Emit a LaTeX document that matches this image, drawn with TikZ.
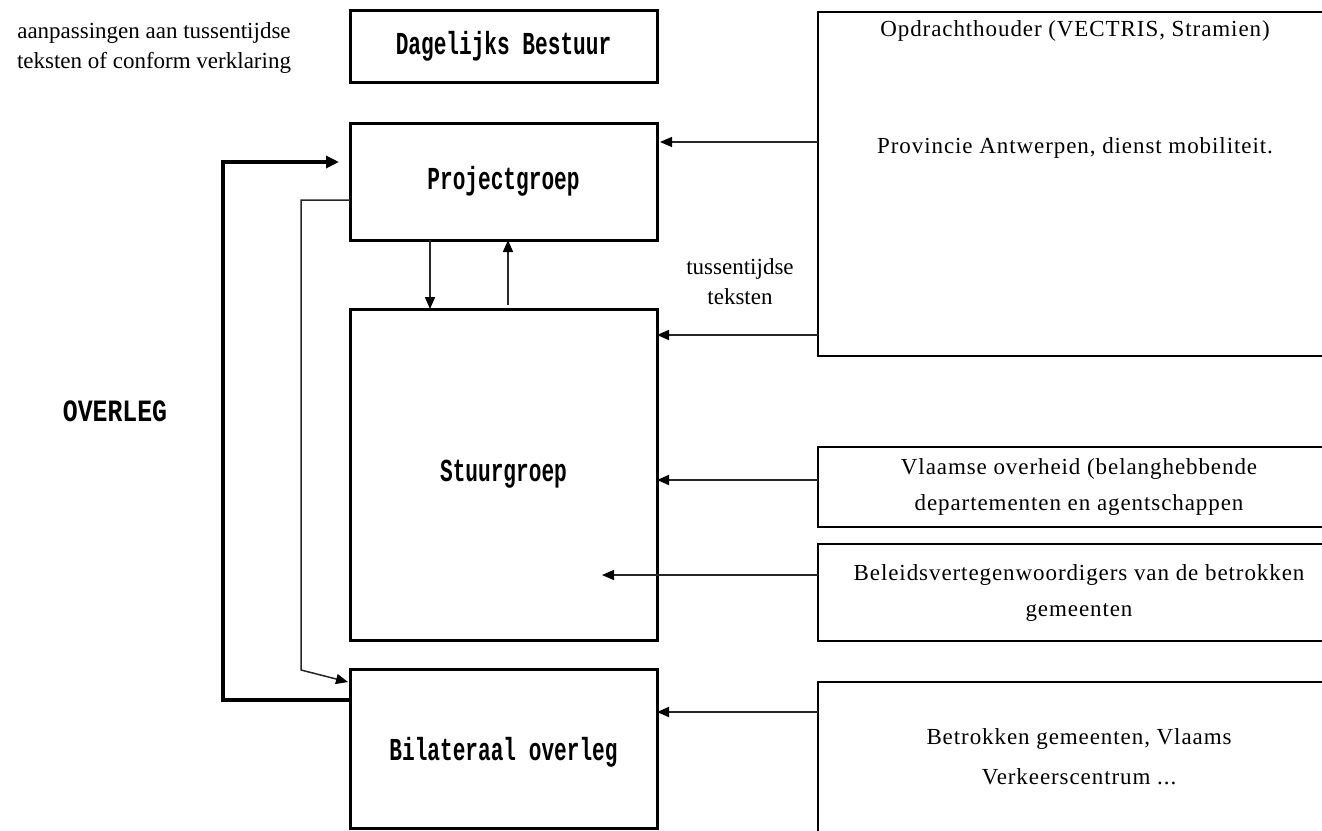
\documentclass[tikz,border=0pt]{standalone}
\usepackage{fontspec}
\setmainfont{Liberation Serif}
\newfontfamily\sidefont[LetterSpace=4]{Liberation Serif}
\newfontfamily\slabfont[FakeStretch=0.66]{Liberation Mono}
\newfontfamily\slabwidefont[FakeStretch=0.8]{Liberation Mono}
\usepackage{tikz}
\usetikzlibrary{arrows.meta, positioning}

\begin{document}
\begin{tikzpicture}[x=1pt, y=-1pt, every node/.style={font=\fontsize{23}{30}\selectfont}]
    % Styles
    \tikzstyle{mainbox} = [rectangle, draw, line width=3pt, minimum width=307pt, inner sep=0pt, outer sep=0pt, font=\slabfont\bfseries\fontsize{32}{30}\selectfont]
    \tikzstyle{sidebox} = [rectangle, draw, line width=1.2pt, minimum width=522pt, inner sep=0pt, outer sep=0pt, align=center, font=\sidefont\fontsize{23}{30}\selectfont]
    \tikzstyle{sidetext} = [inner sep=0pt, align=center]
    \tikzstyle{thinarrow} = [-{Triangle[length=12pt,width=10pt,color=black]}, line width=1.5pt, draw=black!85]
    \tikzstyle{thickarrow} = [-{Triangle[length=13pt,width=12pt]}, line width=3.2pt]

    \path[use as bounding box, fill=white] (0,0) rectangle (1322,830);

    % Main column
    \node[mainbox, minimum height=72pt] (db) at (503.5,46) {Dagelijks Bestuur};
    \node[mainbox, minimum height=117pt, below=41pt of db] (pg) {Projectgroep};
    \node[mainbox, minimum height=331pt, below=69pt of pg] (sg) {Stuurgroep};
    \node[mainbox, minimum height=159pt, below=29pt of sg, text depth=-8pt] (bil) {Bilateraal overleg};

    % Side boxes
    \node[sidebox, minimum height=344pt] (opdracht) at (1079,184) {};
    \node[sidetext, font=\sidefont\fontsize{23}{30}\selectfont] (opdrachttext) at (1075,31) {Opdrachthouder (VECTRIS, Stramien)};
    \node[sidetext, font=\sidefont\fontsize{23}{30}\selectfont] (provtext) at (1075,148) {Provincie Antwerpen, dienst mobiliteit.};
    \node[sidebox, minimum height=80pt] (vlaams) at (1079,487) {Vlaamse overheid (belanghebbende\\[6pt]departementen en agentschappen};
    \node[sidebox, minimum height=97pt] (beleids) at (1079,592.5) {Beleidsvertegenwoordigers van de betrokken\\[6pt]gemeenten};
    \node[sidebox, minimum height=150pt] (betrokken) at (1079,757) {Betrokken gemeenten, Vlaams\\[10pt]Verkeerscentrum ...};

    % Labels
    \node[sidetext] (aanpassing) at (154,48) {aanpassingen aan tussentijdse\\teksten of conform verklaring};
    \node[sidetext] (tussen) at (740,282) {tussentijdse\\teksten};
    \node[inner sep=0pt, font=\slabwidefont\bfseries\fontsize{31}{30}\selectfont] (overleg) at (115,411) {OVERLEG};
    \coordinate (beleidstip) at (602,575);

    % Connections
    \draw[thinarrow, shorten >=3pt] (opdracht.west |- 0,142) -- (pg.east |- 0,142);
    \draw[thinarrow] (opdracht.west |- 0,335) -- (sg.east |- 0,335);
    \draw[thinarrow] (vlaams.west |- 0,480) -- (sg.east |- 0,480);
    \draw[thinarrow] (beleids.west |- 0,575) -- (beleidstip);
    \draw[thinarrow] (betrokken.west |- 0,712) -- (bil.east |- 0,712);

    \draw[thinarrow] ([xshift=-73.5pt]pg.south) -- ([xshift=-73.5pt]sg.north);
    \draw[thinarrow, shorten <=4pt] ([xshift=4.5pt]sg.north) -- ([xshift=4.5pt]pg.south);

    \draw[thickarrow] (bil.west |- 0,700) -- (223,700) -- (223,162) -- ([xshift=-11pt]pg.west |- 0,162);
    \draw[thinarrow] (pg.west |- 0,200) -- (301,200) -- (301,670) -- ([xshift=-2pt]bil.west |- 0,682);
\end{tikzpicture}
\end{document}
